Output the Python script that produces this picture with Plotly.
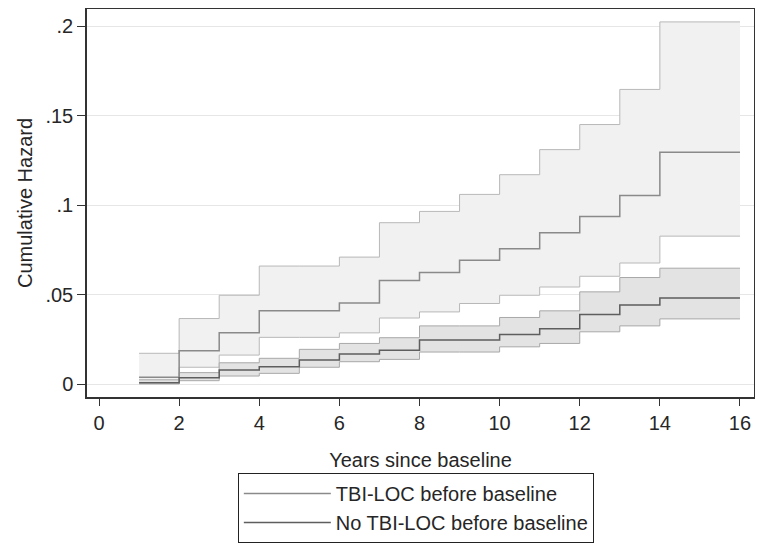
import plotly.graph_objects as go

# Step times (years since baseline); last value repeated to draw the final step to 16
times = [1, 2, 3, 4, 5, 6, 7, 8, 9, 10, 11, 12, 13, 14, 16]

# TBI-LOC before baseline
tbi_est = [0.0039, 0.0187, 0.0287, 0.0410, 0.0410, 0.0454, 0.0580, 0.0624, 0.0692, 0.0757, 0.0846, 0.0937, 0.1054, 0.1295, 0.1295]
tbi_lo  = [0.0005, 0.0095, 0.0163, 0.0262, 0.0262, 0.0287, 0.0370, 0.0404, 0.0451, 0.0497, 0.0543, 0.0603, 0.0677, 0.0827, 0.0827]
tbi_hi  = [0.0173, 0.0367, 0.0497, 0.0660, 0.0660, 0.0710, 0.0902, 0.0965, 0.1060, 0.1170, 0.1310, 0.1450, 0.1646, 0.2023, 0.2023]

# No TBI-LOC before baseline
no_est = [0.0009, 0.0037, 0.0080, 0.0098, 0.0135, 0.0169, 0.0190, 0.0247, 0.0247, 0.0278, 0.0310, 0.0390, 0.0443, 0.0482, 0.0482]
no_lo  = [0.0002, 0.0020, 0.0046, 0.0061, 0.0095, 0.0126, 0.0139, 0.0180, 0.0180, 0.0209, 0.0228, 0.0293, 0.0326, 0.0365, 0.0365]
no_hi  = [0.0025, 0.0065, 0.0120, 0.0145, 0.0195, 0.0228, 0.0260, 0.0326, 0.0326, 0.0373, 0.0410, 0.0516, 0.0596, 0.0648, 0.0648]

x_ticks = [0, 2, 4, 6, 8, 10, 12, 14, 16]
y_ticks = [0, 0.05, 0.1, 0.15, 0.2]
y_tick_labels = ["0", ".05", ".1", ".15", ".2"]

FONT = "Liberation Sans, Arial, sans-serif"
TXT = "#262626"

fig = go.Figure()

# TBI band
fig.add_trace(go.Scatter(x=times, y=tbi_lo, mode="lines", line=dict(shape="hv", color="#b8b8b8", width=1),
                         showlegend=False, hoverinfo="skip"))
fig.add_trace(go.Scatter(x=times, y=tbi_hi, mode="lines", line=dict(shape="hv", color="#b8b8b8", width=1),
                         fill="tonexty", fillcolor="#f1f1f1", showlegend=False, hoverinfo="skip"))
# No-TBI band
fig.add_trace(go.Scatter(x=times, y=no_lo, mode="lines", line=dict(shape="hv", color="#a8a8a8", width=1),
                         showlegend=False, hoverinfo="skip"))
fig.add_trace(go.Scatter(x=times, y=no_hi, mode="lines", line=dict(shape="hv", color="#a8a8a8", width=1),
                         fill="tonexty", fillcolor="#e3e3e3", showlegend=False, hoverinfo="skip"))
# Estimates
fig.add_trace(go.Scatter(x=times, y=tbi_est, mode="lines", line=dict(shape="hv", color="#8a8a8a", width=1.5),
                         name="TBI-LOC before baseline", legendgroup="a"))
fig.add_trace(go.Scatter(x=times, y=no_est, mode="lines", line=dict(shape="hv", color="#5e5e5e", width=1.5),
                         name="No TBI-LOC before baseline", legendgroup="b"))

# The page body adds an 8px margin, so the figure is sized to fit inside the 763x554 window
fig.update_layout(
    width=747, height=538,
    margin=dict(l=79, r=1, t=1, b=149, autoexpand=False),
    paper_bgcolor="white", plot_bgcolor="white",
    font=dict(family=FONT, size=20, color=TXT),
    legend=dict(x=0.493, xanchor="center", y=-0.196, yanchor="top",
                bordercolor="#222222", borderwidth=1, bgcolor="white",
                font=dict(family=FONT, size=20, color=TXT),
                itemwidth=87, traceorder="grouped", tracegroupgap=0),
    xaxis=dict(range=[-0.30, 16.35], tickvals=x_ticks, ticks="outside", ticklen=7, tickcolor="#333333",
               showgrid=False, zeroline=False, showline=True, linecolor="#333333", linewidth=1.5, mirror=True,
               title=dict(text="Years since baseline", standoff=20, font=dict(size=20))),
    yaxis=dict(range=[-0.0071, 0.2095], tickvals=y_ticks, ticktext=y_tick_labels, ticks="outside", ticklen=8,
               tickcolor="#333333", showgrid=True, gridcolor="#e6e6e6", gridwidth=1, zeroline=False,
               showline=True, linecolor="#333333", linewidth=1.5, mirror=True,
               title=dict(text="Cumulative Hazard", standoff=7, font=dict(size=20))),
)

fig.write_html("out.html")
